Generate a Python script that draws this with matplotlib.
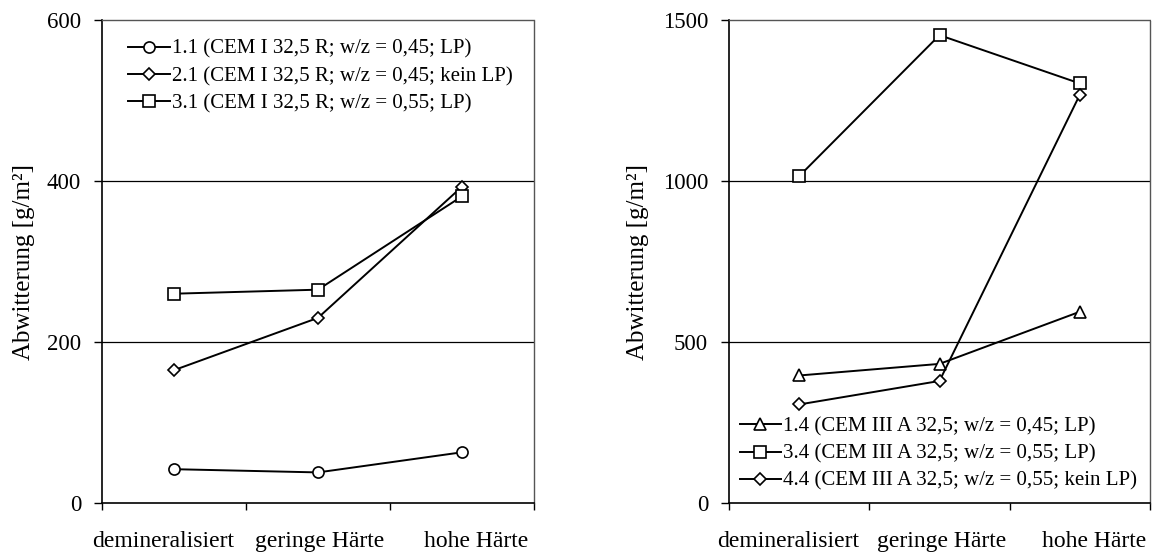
import matplotlib
matplotlib.use("Agg")
from matplotlib import pyplot as plt
from matplotlib import transforms

plt.rcParams['font.family'] = ['Liberation Serif', 'DejaVu Serif']

# categories (water hardness)
categories = ["demineralisiert", "geringe Härte", "hohe Härte"]

# left chart: CEM I 32,5 R
left_labels = ["1.1 (CEM I 32,5 R; w/z = 0,45; LP)",
               "2.1 (CEM I 32,5 R; w/z = 0,45; kein LP)",
               "3.1 (CEM I 32,5 R; w/z = 0,55; LP)"]
left_11 = [42, 38, 63]
left_21 = [165, 230, 393]
left_31 = [260, 265, 381]

# right chart: CEM III A 32,5
right_labels = ["1.4 (CEM III A 32,5; w/z = 0,45; LP)",
                "3.4 (CEM III A 32,5; w/z = 0,55; LP)",
                "4.4 (CEM III A 32,5; w/z = 0,55; kein LP)"]
right_14 = [396, 432, 594]
right_34 = [1015, 1453, 1303]
right_44 = [306, 379, 1268]

YLABEL = "Abwitterung [g/m²]"
# Excel spreads the category labels a bit (offsets in points)
label_shift = [-8, 1.5, 10]


def style_axis(ax, ymax, ystep):
    x_centers = [i + 0.5 for i in range(len(categories))]
    ax.set_xlim(0, len(categories))
    ax.set_ylim(0, ymax)
    ax.set_xticks(range(len(categories) + 1))
    ax.set_xticklabels([])
    ax.set_xticks(x_centers, minor=True)
    ax.set_xticklabels(categories, minor=True, fontsize=17)
    ax.tick_params(axis='x', which='major', direction='out', length=5,
                   width=1, color='black')
    ax.tick_params(axis='x', which='minor', length=0, pad=20)
    # shift after tick_params, which would reset the transforms
    for tick, dx in zip(ax.xaxis.get_minor_ticks(), label_shift):
        lbl = tick.label1
        lbl.set_transform(lbl.get_transform() + transforms.ScaledTranslation(
            dx / 72, 0, ax.figure.dpi_scale_trans))
    ax.set_yticks(range(0, ymax + 1, ystep))
    ax.tick_params(axis='y', direction='out', length=6, width=1,
                   labelsize=16.5, pad=9)
    # horizontal gridlines (not at top / bottom)
    for v in range(ystep, ymax, ystep):
        ax.axhline(v, color='black', lw=0.9, zorder=1)
    for side in ('top', 'right'):
        ax.spines[side].set_linestyle((0, (1, 1)))
        ax.spines[side].set_color('#555555')
        ax.spines[side].set_linewidth(1.0)
    for side in ('left', 'bottom'):
        ax.spines[side].set_color('black')
        ax.spines[side].set_linewidth(1.2)
    ax.set_ylabel(YLABEL, fontsize=18)


fig = plt.figure(figsize=(11.52, 5.54), dpi=100)
ax1 = fig.add_axes([102 / 1152, 1 - 503 / 554, 432 / 1152, 483 / 554])
ax2 = fig.add_axes([729 / 1152, 1 - 503 / 554, 421 / 1152, 483 / 554])

x = [i + 0.5 for i in range(len(categories))]
line_kw = {'color': 'black', 'lw': 1.4, 'markerfacecolor': 'white',
           'markeredgecolor': 'black', 'markeredgewidth': 1.2, 'zorder': 3}

ax1.plot(x, left_11, marker='o', ms=8, label=left_labels[0], **line_kw)
ax1.plot(x, left_21, marker='D', ms=6, label=left_labels[1], **line_kw)
ax1.plot(x, left_31, marker='s', ms=8, label=left_labels[2], **line_kw)
style_axis(ax1, 600, 200)
ax1.yaxis.set_label_coords(-0.155, 0.5)
ax1.legend(loc='upper left', bbox_to_anchor=(0.06, 0.96), frameon=False,
           fontsize=15, handlelength=2.0, handletextpad=0.1,
           labelspacing=0.36, borderaxespad=0, borderpad=0)

ax2.plot(x, right_14, marker='^', ms=8, label=right_labels[0], **line_kw)
ax2.plot(x, right_34, marker='s', ms=8, label=right_labels[1], **line_kw)
ax2.plot(x, right_44, marker='D', ms=6, label=right_labels[2], **line_kw)
style_axis(ax2, 1500, 500)
ax2.yaxis.set_label_coords(-0.19, 0.5)
ax2.legend(loc='lower left', bbox_to_anchor=(0.025, 0.025), frameon=False,
           fontsize=15, handlelength=2.0, handletextpad=0.1,
           labelspacing=0.36, borderaxespad=0, borderpad=0)

fig.savefig("out.png", dpi=100)
